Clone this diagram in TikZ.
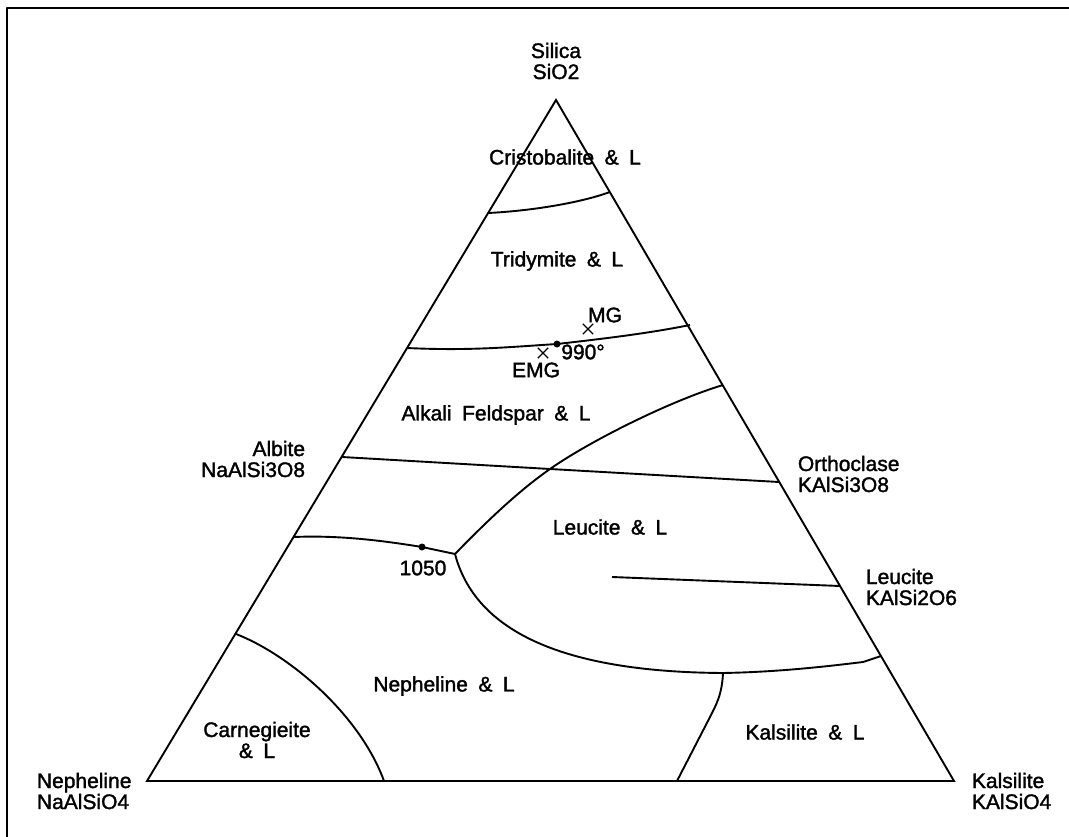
\documentclass[tikz,border=0pt]{standalone}
\usepackage{fontspec}
\setmainfont{Liberation Sans}
\newfontfamily\plotfont{Liberation Sans}[FakeBold=1.6]
\usetikzlibrary{shapes.misc}
\newcommand{\phasefont}{\plotfont\fontsize{21}{21}\selectfont\spaceskip=0.5em\relax}

\begin{document}
\begin{tikzpicture}[x=1pt,y=-1pt,line width=1.9pt,line join=round,
    every node/.style={inner sep=0pt,font=\phasefont},
    endmember/.style={align=left,anchor=west},
    xmark/.style={cross out,draw,minimum size=9pt,line width=1.3pt},
    eutectic/.style={circle,fill,minimum size=7pt}]
    \useasboundingbox (0,0) rectangle (1069,837);
    % frame of the scan
    \draw [line width=2.2pt] (7,837) -- (7,8) -- (1069,8);
    % corners
    \coordinate (SiO2) at (556,100);
    \coordinate (Ne) at (147,781);
    \coordinate (Ks) at (954,781);
    \draw [black,line join=miter] (SiO2) -- (Ks) -- (Ne) -- cycle;
    \node [align=center] (silica) at (556,61) {Silica\\SiO2};
    \node [endmember,align=right,anchor=east] (albite) at (306,459) {Albite\\NaAlSi3O8};
    \node [endmember] (orthoclase) at (797,474) {Orthoclase\\KAlSi3O8};
    \node [endmember] (leucite) at (865,587) {Leucite\\KAlSi2O6};
    \node [endmember] (nepheline) at (36,791) {Nepheline\\NaAlSiO4};
    \node [endmember] (kalsilite) at (971,791) {Kalsilite\\KAlSiO4};
    % junctions
    \coordinate (cL) at (488,213);
    \coordinate (cR) at (610,192);
    \coordinate (tL) at (407,348);
    \coordinate (tR) at (690,325);
    \coordinate (ab) at (342,457);
    \coordinate (or) at (779,482);
    \coordinate (fl) at (550,469);
    \coordinate (lR) at (723,385);
    \coordinate (tri) at (455,554);
    \coordinate (nL) at (294,537);
    \coordinate (lcA) at (612,577);
    \coordinate (lcB) at (840,586);
    \coordinate (nR) at (881,656);
    \coordinate (kT) at (723,673);
    \coordinate (kB) at (677,781);
    \coordinate (gL) at (236,634);
    \coordinate (gB) at (384,781);
    \node [eutectic] (e990) at (557,344) {};
    \node [eutectic] (e1050) at (422,547) {};
    % field boundaries
    \draw [black] (cL) .. controls (530,211) and (580,203) .. (cR);
    \draw [black] (tL) .. controls (470,351) and (510,347) .. (e990.center)
        .. controls (610,338) and (650,333) .. (tR);
    \draw [black] (ab) -- (fl) -- (or);
    \draw [black] (tri) .. controls (490,518) and (520,490) .. (fl)
        .. controls (590,441) and (670,401) .. (lR);
    \draw [black] (nL) .. controls (340,535) and (385,541) .. (e1050.center) -- (tri);
    \draw [black] (tri) .. controls (475,630) and (560,672) .. (kT)
        .. controls (780,672) and (830,666) .. (863,662) -- (nR);
    \draw [black] (lcA) -- (lcB);
    \draw [black] (kT) .. controls (722,695) and (716,705) .. (710,717) -- (kB);
    \draw [black] (gL) .. controls (290,655) and (360,715) .. (gB);
    % compositions
    \node [xmark] (mgx) at (588,329) {};
    \node (mg) at (605,315) {MG};
    \node (t990) at (583,352) {990°};
    \node [xmark] (emgx) at (543,353) {};
    \node (emg) at (536,370) {EMG};
    \node (t1050) at (423,568) {1050};
    % fields
    \node (cristobalite) at (565,157) {Cristobalite \& L};
    \node (tridymite) at (557,261) {Tridymite \& L};
    \node (feldspar) at (496,415) {Alkali Feldspar \& L};
    \node (lcfield) at (610,527) {Leucite \& L};
    \node (nefield) at (444,686) {Nepheline \& L};
    \node [align=center] (carnegieite) at (257,740) {Carnegieite\\\& L};
    \node (ksfield) at (805,732) {Kalsilite \& L};
\end{tikzpicture}
\end{document}
